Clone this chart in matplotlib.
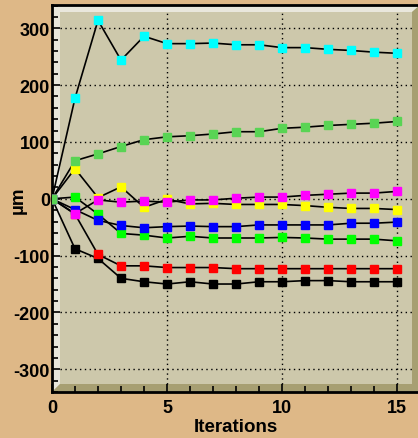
import matplotlib
matplotlib.use("Agg")
import matplotlib.pyplot as plt
from matplotlib.patches import Polygon

plt.rcParams["font.family"] = ["Liberation Sans", "DejaVu Sans"]
plt.rcParams["font.weight"] = "bold"
plt.rcParams["axes.unicode_minus"] = False

# Data
iterations = list(range(16))
black = [0, -88, -105, -140, -146, -150, -146, -150, -150, -146, -146, -144, -144, -146, -146, -146]
red = [0, -27, -98, -118, -118, -121, -121, -121, -123, -123, -123, -123, -123, -123, -123, -123]
green = [0, 3, -27, -61, -64, -69, -66, -69, -69, -69, -68, -69, -71, -71, -71, -74]
blue = [0, -19, -38, -47, -51, -49, -48, -49, -49, -46, -46, -46, -46, -43, -43, -41]
yellow = [0, 53, 2, 21, -15, -1, -9, -8, -10, -10, -10, -12, -15, -17, -17, -19]
magenta = [0, -26, -2, -6, -4, -6, -2, -2, 1, 3, 3, 6, 8, 10, 10, 13]
cyan = [0, 177, 314, 244, 286, 273, 273, 274, 271, 271, 266, 266, 263, 261, 258, 256]
dark_green = [0, 67, 79, 92, 104, 109, 111, 114, 118, 118, 124, 126, 129, 131, 133, 136]

series = [
    (black, "#000000"),
    (red, "#ff0000"),
    (green, "#00ff00"),
    (blue, "#0000ff"),
    (yellow, "#ffff00"),
    (magenta, "#ff00ff"),
    (cyan, "#00ffff"),
    (dark_green, "#59d454"),
]

W, H = 418, 439
fig = plt.figure(figsize=(W / 100, H / 100), dpi=100, facecolor="#deb887")

# axes box in pixels: left 52, right 420, bottom 393, top 6
x0, x1, y0, y1 = 52, 420, 393, 6
ax = fig.add_axes([x0 / W, (H - y0) / H, (x1 - x0) / W, (y0 - y1) / H])
ax.set_facecolor("#cdc8ab")
ax.set_xlim(0, 16)
ax.set_ylim(-340, 341)

# ROOT-style bevelled frame
aw, ah = x1 - x0, y0 - y1
bl, br = 8 / aw, 8 / aw
bb, bt = 8 / ah, 7 / ah
light = Polygon([(0, 0), (bl, bb), (bl, 1 - bt), (1 - br, 1 - bt), (1, 1), (0, 1)],
                closed=True, transform=ax.transAxes, facecolor="#e9e7dc",
                edgecolor="none", zorder=0.5)
dark = Polygon([(0, 0), (1, 0), (1, 1), (1 - br, 1 - bt), (1 - br, bb), (bl, bb)],
               closed=True, transform=ax.transAxes, facecolor="#a79f72",
               edgecolor="none", zorder=0.5)
ax.add_patch(light)
ax.add_patch(dark)

# dotted grid at major ticks
for yv in [-300, -200, -100, 0, 100, 200, 300]:
    ax.axhline(yv, xmin=bl, xmax=1 - br, color="black", lw=1,
               ls=(0, (1, 2.5)), zorder=1)
for xv in [5, 10, 15]:
    ax.axvline(xv, ymin=bb, ymax=1 - bt, color="black", lw=1,
               ls=(0, (1, 2.5)), zorder=1)

for vals, col in series:
    ax.plot(iterations, vals, color="black", lw=1.2, zorder=2)
    ax.plot(iterations, vals, ls="none", marker="s", ms=5.8,
            mfc=col, mec=col, zorder=3)

ax.set_xticks([0, 5, 10, 15])
ax.set_xticks(range(16), minor=True)
ax.set_yticks([-300, -200, -100, 0, 100, 200, 300])
ax.set_yticks(range(-340, 341, 20), minor=True)
ax.tick_params(axis="both", which="both", direction="in", color="black",
               width=1.2, labelsize=13)
ax.tick_params(axis="both", which="major", length=6)
ax.tick_params(axis="both", which="minor", length=4)
ax.tick_params(axis="x", which="both", top=False, pad=5)
ax.tick_params(axis="y", which="both", right=False, pad=1.5)
for lab in ax.get_xticklabels() + ax.get_yticklabels():
    lab.set_fontweight("bold")

for side in ["left", "bottom", "top"]:
    ax.spines[side].set_linewidth(2)
    ax.spines[side].set_color("black")
ax.spines["right"].set_visible(False)

fig.text(236 / W, 1 - 428 / H, "Iterations", ha="center", va="center",
         fontsize=13.5, fontweight="bold")
fig.text(18 / W, 1 - 200 / H, "µm", ha="center", va="center",
         rotation=90, fontsize=13.5, fontweight="bold")

fig.savefig("out.png", dpi=100, facecolor=fig.get_facecolor())
